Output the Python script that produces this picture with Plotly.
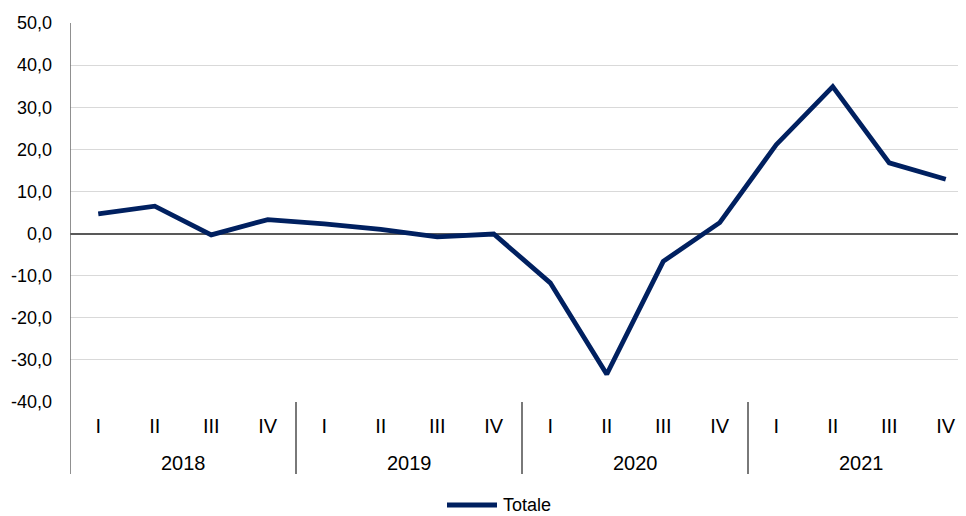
import plotly.graph_objects as go

years = ["2018", "2019", "2020", "2021"]
quarters = ["I", "II", "III", "IV"]
series_name = "Totale"
values = [4.7, 6.5, -0.3, 3.3,
          2.3, 1.0, -0.8, -0.1,
          -11.7, -33.4, -6.6, 2.6,
          21.1, 34.9, 16.8, 12.9]
y_ticks = [-40, -30, -20, -10, 0, 10, 20, 30, 40, 50]

n = len(values)
xs = list(range(n))
tick_text = [q for _ in years for q in quarters]
FONT = "Liberation Sans, Arial, sans-serif"
NAVY = "#002060"

# page offset (body margin 8px) compensated in margins
PLOT_TOP, PLOT_BOTTOM = 23, 402
PLOT_H = PLOT_BOTTOM - PLOT_TOP


def py(page_y):
    return (PLOT_BOTTOM - page_y) / PLOT_H


fig = go.Figure()
fig.add_trace(go.Scatter(
    x=xs, y=values, mode="lines", name=series_name,
    line=dict(color=NAVY, width=4.8), showlegend=False,
))

shapes = []
shapes.append(dict(type="line", xref="x", yref="paper", x0=-0.5, x1=-0.5,
                   y0=py(474), y1=1, line=dict(color="#6b6b6b", width=1.5)))
for k in range(1, len(years)):
    xb = k * len(quarters) - 0.5
    shapes.append(dict(type="line", xref="x", yref="paper", x0=xb, x1=xb,
                       y0=py(474), y1=0, line=dict(color="#4d4d4d", width=1.5)))

# legend (line sample + label)
PLOT_LEFT, PLOT_W = 70, 904


def px(page_x):
    return (page_x - PLOT_LEFT) / PLOT_W


shapes.append(dict(type="line", xref="paper", yref="paper", x0=px(447), x1=px(497),
                   y0=py(505), y1=py(505), line=dict(color=NAVY, width=5)))

annotations = []
for k, yr in enumerate(years):
    annotations.append(dict(x=k * len(quarters) + 1.5, y=py(462.5), xref="x", yref="paper",
                            text=yr, showarrow=False, xanchor="center", yanchor="middle",
                            font=dict(family=FONT, size=20, color="#000000")))
annotations.append(dict(x=px(501), y=py(505), xref="paper", yref="paper",
                        text=series_name, showarrow=False, xanchor="left", yanchor="middle",
                        font=dict(family=FONT, size=18, color="#000000")))

fig.update_layout(
    width=966, height=508,
    margin=dict(l=62, r=0, t=15, b=508 - (PLOT_BOTTOM - 8)),
    paper_bgcolor="white", plot_bgcolor="white",
    font=dict(family=FONT, size=18, color="#000000"),
    showlegend=False,
    shapes=shapes, annotations=annotations,
)
fig.update_xaxes(
    range=[-0.5, 15.5], tickvals=xs, ticktext=tick_text,
    showgrid=False, zeroline=False, showline=False,
    ticks="outside", ticklen=6, tickcolor="rgba(0,0,0,0)",
    tickfont=dict(family=FONT, size=20, color="#000000"),
)
fig.update_yaxes(
    range=[-40, 50], tickvals=y_ticks,
    ticktext=[f"{v:.1f}".replace(".", ",") for v in y_ticks],
    showgrid=True, gridcolor="#d9d9d9", gridwidth=1.2,
    zeroline=True, zerolinecolor="#595959", zerolinewidth=1.5,
    showline=False, ticks="", ticklabelstandoff=17,
    tickfont=dict(family=FONT, size=18, color="#000000"),
)

fig.write_html("out.html")
